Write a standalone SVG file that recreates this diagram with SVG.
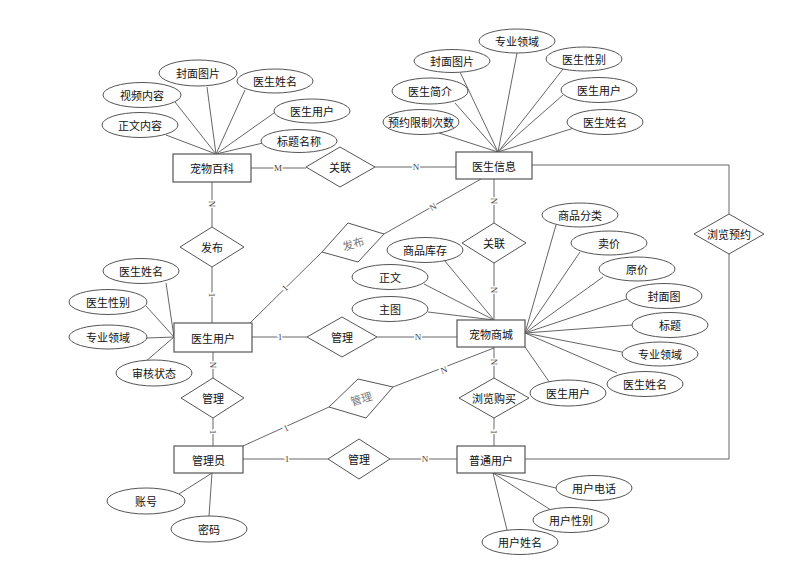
<svg xmlns="http://www.w3.org/2000/svg" width="798" height="583" viewBox="0 0 798 583">
<style>
.e{fill:#fff;stroke:#555;stroke-width:1.2}
.a{fill:#fff;stroke:#555;stroke-width:1}
.r{fill:#fff;stroke:#555;stroke-width:1}
.t{font-family:"Noto Sans CJK SC","Liberation Sans",sans-serif;font-size:11px;fill:#111;text-anchor:middle;dominant-baseline:central}
.g{fill:#777}
.c{stroke:#666;stroke-width:1;fill:none}
.k{font-family:"Liberation Serif",serif;font-size:9px;fill:#444;text-anchor:middle;dominant-baseline:central;stroke:#fff;stroke-width:3;paint-order:stroke}
</style>
<rect width="798" height="583" fill="#fff"/>
<g id="connectors">
<!-- attribute lines -->
<path class="c" d="M216,154L166,135M216,154L175,102M216,154L207,87M216,154L245,90M216,154L274,113M216,154L263,143"/>
<path class="c" d="M498,152L517,53M498,152L460,72M498,152L563,69M498,152L455,103M498,152L563,95M498,152L439,133M498,152L574,128"/>
<path class="c" d="M174,337L166,283M174,337L146,306M174,337L147,338M174,337L145,362"/>
<path class="c" d="M494,320L444,260M494,320L424,284M494,320L428,312"/>
<path class="c" d="M525,333L556,225M525,333L580,252M525,333L603,277M525,333L627,299M525,333L632,325M525,333L622,352M525,333L617,373M525,347L550,383"/>
<path class="c" d="M212,473L179,494M212,473L209,516"/>
<path class="c" d="M493,473L556,488M493,473L554,512M493,473L507,530"/>
<!-- relationship lines -->
<path class="c" d="M251,168H306M375,167H456"/>
<path class="c" d="M212,182V227M212,267V323"/>
<path class="c" d="M494,179V223M494,263V320"/>
<path class="c" d="M252,337H307M377,337H457"/>
<path class="c" d="M213,352V378M213,418V446"/>
<path class="c" d="M243,459H328M390,459H457"/>
<path class="c" d="M494,347V378M494,418V446"/>
<path class="c" d="M250,323L322,252M384,234L481,179"/>
<path class="c" d="M243,446L329,407M393,387L494,348"/>
<path class="c" d="M532,165H729V214M729,254V459H525"/>
<!-- cardinalities -->
<text class="k" x="278" y="168">M</text>
<text class="k" x="416" y="167">N</text>
<text class="k" transform="translate(212,204) rotate(90)">N</text>
<text class="k" transform="translate(212,295) rotate(90)">1</text>
<text class="k" transform="translate(494,201) rotate(90)">N</text>
<text class="k" transform="translate(494,290) rotate(90)">N</text>
<text class="k" x="280" y="337">1</text>
<text class="k" x="418" y="337">N</text>
<text class="k" transform="translate(213,365) rotate(90)">N</text>
<text class="k" transform="translate(213,432) rotate(90)">1</text>
<text class="k" x="287" y="459">1</text>
<text class="k" x="425" y="459">N</text>
<text class="k" transform="translate(494,362) rotate(90)">N</text>
<text class="k" transform="translate(494,432) rotate(90)">1</text>
<text class="k" transform="translate(285,288) rotate(-45)">1</text>
<text class="k" transform="translate(433,207) rotate(-30)">N</text>
<text class="k" transform="translate(286,428) rotate(-25)">1</text>
<text class="k" transform="translate(444,370) rotate(-21)">N</text>
</g>
<!-- entities -->
<g id="baike"><rect class="e" x="173" y="154" width="78" height="28"/><text class="t" x="212" y="168">宠物百科</text></g>
<g id="yishengxinxi"><rect class="e" x="456" y="152" width="76" height="27"/><text class="t" x="494" y="165.5">医生信息</text></g>
<g id="yishengyonghu"><rect class="e" x="174" y="323" width="78" height="29"/><text class="t" x="213" y="337.5">医生用户</text></g>
<g id="shangcheng"><rect class="e" x="457" y="320" width="68" height="27"/><text class="t" x="491" y="333.5">宠物商城</text></g>
<g id="guanliyuan"><rect class="e" x="174" y="446" width="69" height="27"/><text class="t" x="208.5" y="459.5">管理员</text></g>
<g id="putongyonghu"><rect class="e" x="457" y="446" width="68" height="27"/><text class="t" x="491" y="459.5">普通用户</text></g>
<!-- relationships -->
<g id="rel-guanlian1"><polygon class="r" points="306,167 340,147 375,167 340,187"/><text class="t" x="340" y="167">关联</text></g>
<g id="rel-fabu1"><polygon class="r" points="180,247 212,227 244,247 212,267"/><text class="t" x="212" y="247">发布</text></g>
<g id="rel-guanlian2"><polygon class="r" points="462,243 494,223 526,243 494,263"/><text class="t" x="494" y="243">关联</text></g>
<g id="rel-fabu2"><polygon class="r" points="322,252 348,223 384,234 358,262"/><text class="t g" transform="translate(353,243) rotate(-17)">发布</text></g>
<g id="rel-guanli1"><polygon class="r" points="307,337 342,317 377,337 342,357"/><text class="t" x="342" y="337">管理</text></g>
<g id="rel-guanli2"><polygon class="r" points="181,398 213,378 244,398 213,418"/><text class="t" x="213" y="398">管理</text></g>
<g id="rel-guanli3"><polygon class="r" points="329,407 358,379 393,387 366,418"/><text class="t g" transform="translate(361,398) rotate(-17)">管理</text></g>
<g id="rel-guanli4"><polygon class="r" points="328,459 359,439 390,459 359,479"/><text class="t" x="359" y="459">管理</text></g>
<g id="rel-goumai"><polygon class="r" points="459,398 494,378 529,398 494,418"/><text class="t" x="494" y="398">浏览购买</text></g>
<g id="rel-yuyue"><polygon class="r" points="694,234 729,214 764,234 729,254"/><text class="t" x="729" y="234">浏览预约</text></g>
<!-- attributes of 宠物百科 -->
<g id="a1"><ellipse class="a" cx="142" cy="95" rx="39" ry="12.5"/><text class="t" x="142" y="95">视频内容</text></g>
<g id="a2"><ellipse class="a" cx="198" cy="73" rx="39" ry="13"/><text class="t" x="198" y="73">封面图片</text></g>
<g id="a3"><ellipse class="a" cx="275" cy="81" rx="38" ry="12"/><text class="t" x="275" y="81">医生姓名</text></g>
<g id="a4"><ellipse class="a" cx="140" cy="125" rx="38" ry="12.5"/><text class="t" x="140" y="125">正文内容</text></g>
<g id="a5"><ellipse class="a" cx="312" cy="111" rx="38" ry="12"/><text class="t" x="312" y="111">医生用户</text></g>
<g id="a6"><ellipse class="a" cx="299" cy="141" rx="38" ry="11.5"/><text class="t" x="299" y="141">标题名称</text></g>
<!-- attributes of 医生信息 -->
<g id="b1"><ellipse class="a" cx="517" cy="41" rx="38" ry="12"/><text class="t" x="517" y="41">专业领域</text></g>
<g id="b2"><ellipse class="a" cx="452" cy="61" rx="38" ry="11.5"/><text class="t" x="452" y="61">封面图片</text></g>
<g id="b3"><ellipse class="a" cx="584" cy="59" rx="38" ry="12"/><text class="t" x="584" y="59">医生性别</text></g>
<g id="b4"><ellipse class="a" cx="430" cy="91" rx="38" ry="13"/><text class="t" x="430" y="91">医生简介</text></g>
<g id="b5"><ellipse class="a" cx="599" cy="90" rx="38" ry="12.5"/><text class="t" x="599" y="90">医生用户</text></g>
<g id="b6"><ellipse class="a" cx="421" cy="122" rx="38" ry="12.5"/><text class="t" x="421" y="122">预约限制次数</text></g>
<g id="b7"><ellipse class="a" cx="605" cy="122" rx="38" ry="12.5"/><text class="t" x="605" y="122">医生姓名</text></g>
<!-- attributes of 医生用户 -->
<g id="c1"><ellipse class="a" cx="141" cy="271" rx="38" ry="12.5"/><text class="t" x="141" y="271">医生姓名</text></g>
<g id="c2"><ellipse class="a" cx="108" cy="302" rx="39" ry="12.5"/><text class="t" x="108" y="302">医生性别</text></g>
<g id="c3"><ellipse class="a" cx="108" cy="337" rx="39" ry="12"/><text class="t" x="108" y="337">专业领域</text></g>
<g id="c4"><ellipse class="a" cx="154" cy="373" rx="38" ry="13"/><text class="t" x="154" y="373">审核状态</text></g>
<!-- attributes of 宠物商城 -->
<g id="d1"><ellipse class="a" cx="425" cy="250" rx="38" ry="12.5"/><text class="t" x="425" y="250">商品库存</text></g>
<g id="d2"><ellipse class="a" cx="390" cy="277" rx="38" ry="12.5"/><text class="t" x="390" y="277">正文</text></g>
<g id="d3"><ellipse class="a" cx="390" cy="309" rx="38" ry="12.5"/><text class="t" x="390" y="309">主图</text></g>
<g id="d4"><ellipse class="a" cx="580" cy="215" rx="38" ry="12"/><text class="t" x="580" y="215">商品分类</text></g>
<g id="d5"><ellipse class="a" cx="609" cy="243" rx="38" ry="12"/><text class="t" x="609" y="243">卖价</text></g>
<g id="d6"><ellipse class="a" cx="637" cy="269" rx="38" ry="12"/><text class="t" x="637" y="269">原价</text></g>
<g id="d7"><ellipse class="a" cx="664" cy="296" rx="38" ry="12.5"/><text class="t" x="664" y="296">封面图</text></g>
<g id="d8"><ellipse class="a" cx="670" cy="325" rx="38" ry="12.5"/><text class="t" x="670" y="325">标题</text></g>
<g id="d9"><ellipse class="a" cx="660" cy="354" rx="38" ry="12"/><text class="t" x="660" y="354">专业领域</text></g>
<g id="d10"><ellipse class="a" cx="645" cy="384" rx="38" ry="12.5"/><text class="t" x="645" y="384">医生姓名</text></g>
<g id="d11"><ellipse class="a" cx="568" cy="393" rx="38" ry="13"/><text class="t" x="568" y="393">医生用户</text></g>
<!-- attributes of 管理员 -->
<g id="e1"><ellipse class="a" cx="146" cy="501" rx="39" ry="13"/><text class="t" x="146" y="501">账号</text></g>
<g id="e2"><ellipse class="a" cx="209" cy="529" rx="38" ry="13"/><text class="t" x="209" y="529">密码</text></g>
<!-- attributes of 普通用户 -->
<g id="f1"><ellipse class="a" cx="594" cy="488" rx="38" ry="12.5"/><text class="t" x="594" y="488">用户电话</text></g>
<g id="f2"><ellipse class="a" cx="571" cy="520" rx="38" ry="12.5"/><text class="t" x="571" y="520">用户性别</text></g>
<g id="f3"><ellipse class="a" cx="520" cy="542" rx="38" ry="12.5"/><text class="t" x="520" y="542">用户姓名</text></g>
</svg>
